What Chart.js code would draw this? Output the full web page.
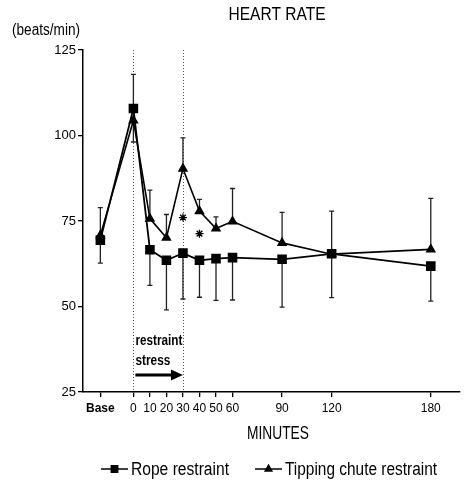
<!DOCTYPE html>
<html lang="en">
<head>
    <meta charset="utf-8">
    <title>Heart rate</title>
    <script src="https://cdn.jsdelivr.net/npm/chart.js@4.4.0/dist/chart.umd.min.js"></script>
    <style>
        body { margin: 0; background: #fff; }
        canvas { display: block; }
    </style>
</head>
<body>
<canvas id="hr-chart" width="467" height="483"></canvas>
<script>
"use strict";

// tidpunkter (minuter, Base ritas på -20)
const minutes = [-20, 0, 10, 20, 30, 40, 50, 60, 90, 120, 180];
const timeLabels = ["Base", "0", "10", "20", "30", "40", "50", "60", "90", "120", "180"];
const yTicks = [25, 50, 75, 100, 125];

const seriesNames = ["Rope restraint", "Tipping chute restraint"];
const ropeMean = [69.4, 107.9, 66.6, 63.5, 65.6, 63.5, 64.0, 64.3, 63.8, 65.4, 61.8];
const tippingMean = [70.8, 104.4, 75.7, 70.1, 90.3, 77.9, 72.8, 74.9, 68.6, 65.3, 66.7];

// ändpunkt för felstaplarna
const ropeErrEnd = [62.7, 117.9, 56.2, 49.0, 52.2, 52.7, 51.8, 51.9, 49.8, 52.6, 51.6];
const tippingErrEnd = [78.9, 98.1, 84.0, 76.9, 99.3, 81.3, 76.2, 84.5, 77.5, 77.9, 81.6];

// signifikans-stjärnor
const starMinutes = [30, 40];
const starValues = [76.0, 71.3];

// restraint-perioden
const stressStart = 0;
const stressEnd = 30;

const FONT = "'Liberation Sans', Arial, sans-serif";

const toPoints = (xs, ys) => xs.map((x, i) => ({ x: x, y: ys[i] }));

// smal text: trycker ihop texten till en given bredd
function narrowText(ctx, text, x, y, width, align) {
    const w = ctx.measureText(text).width;
    const sx = width / w;
    ctx.save();
    ctx.translate(x, y);
    ctx.scale(sx, 1);
    let dx = 0;
    if (align === "center") dx = -w / 2;
    ctx.textAlign = "left";
    ctx.fillText(text, dx, 0);
    ctx.restore();
}

function drawErrorBars(ctx, xScale, yScale, means, ends) {
    ctx.save();
    ctx.strokeStyle = "#222";
    ctx.lineWidth = 1.3;
    minutes.forEach((m, i) => {
        const x = xScale.getPixelForValue(m);
        const y0 = yScale.getPixelForValue(means[i]);
        const y1 = yScale.getPixelForValue(ends[i]);
        ctx.beginPath();
        ctx.moveTo(x, y0);
        ctx.lineTo(x, y1);
        ctx.moveTo(x - 2.5, y1);
        ctx.lineTo(x + 2.5, y1);
        ctx.stroke();
    });
    ctx.restore();
}

const overlay = {
    id: "overlay",
    beforeDatasetsDraw(chart) {
        const { ctx, chartArea, scales } = chart;
        const x = scales.x, y = scales.y;

        // prickade linjer för start och slut
        ctx.save();
        ctx.strokeStyle = "#555";
        ctx.lineWidth = 1;
        ctx.setLineDash([1, 2]);
        [stressStart, stressEnd].forEach(m => {
            const px = Math.round(x.getPixelForValue(m)) + 0.5;
            ctx.beginPath();
            ctx.moveTo(px, chartArea.top);
            ctx.lineTo(px, chartArea.bottom);
            ctx.stroke();
        });
        ctx.restore();

        drawErrorBars(ctx, x, y, ropeMean, ropeErrEnd);
        drawErrorBars(ctx, x, y, tippingMean, tippingErrEnd);
    },
    afterDraw(chart) {
        const { ctx, scales } = chart;
        const x = scales.x;

        ctx.save();
        ctx.fillStyle = "#000";
        ctx.textBaseline = "middle";

        ctx.font = "19px " + FONT;
        narrowText(ctx, "HEART RATE", 277, 15, 97, "center");

        ctx.font = "16px " + FONT;
        narrowText(ctx, "(beats/min)", 12, 31, 68, "left");

        ctx.font = "18px " + FONT;
        narrowText(ctx, "MINUTES", 278, 434, 62, "center");

        // restraint stress + pil
        const xs = x.getPixelForValue(stressStart) + 2;
        const xe = x.getPixelForValue(stressEnd);
        ctx.font = "bold 15px " + FONT;
        ctx.textBaseline = "alphabetic";
        narrowText(ctx, "restraint", xs, 345, 47, "left");
        narrowText(ctx, "stress", xs, 365, 35, "left");

        ctx.strokeStyle = "#000";
        ctx.lineWidth = 3;
        ctx.beginPath();
        ctx.moveTo(xs, 375);
        ctx.lineTo(xe - 8, 375);
        ctx.stroke();
        ctx.beginPath();
        ctx.moveTo(xe, 375);
        ctx.lineTo(xe - 12, 369.5);
        ctx.lineTo(xe - 12, 380.5);
        ctx.closePath();
        ctx.fill();

        // förklaring
        const legendY = 469;
        const items = [
            { name: seriesNames[0], x: 101, w: 98, style: "rect", r: 4.5 },
            { name: seriesNames[1], x: 255, w: 152, style: "triangle", r: 3.8 }
        ];
        ctx.font = "18px " + FONT;
        ctx.textBaseline = "middle";
        items.forEach(it => {
            ctx.strokeStyle = "#000";
            ctx.lineWidth = 1.5;
            ctx.beginPath();
            ctx.moveTo(it.x, legendY);
            ctx.lineTo(it.x + 27, legendY);
            ctx.stroke();
            Chart.helpers.drawPoint(ctx, { pointStyle: it.style, radius: it.r, borderWidth: 1 }, it.x + 13.5, legendY);
            ctx.fill();
            narrowText(ctx, it.name, it.x + 30, legendY + 1, it.w, "left");
        });
        ctx.restore();
    }
};

new Chart(document.getElementById("hr-chart"), {
    type: "line",
    data: {
        datasets: [
            {
                label: seriesNames[0],
                data: toPoints(minutes, ropeMean),
                borderColor: "#000",
                backgroundColor: "#000",
                borderWidth: 1.8,
                pointStyle: "rect",
                pointRadius: 5.5,
                tension: 0
            },
            {
                label: seriesNames[1],
                data: toPoints(minutes, tippingMean),
                borderColor: "#000",
                backgroundColor: "#000",
                borderWidth: 1.6,
                pointStyle: "triangle",
                pointRadius: 4.5,
                tension: 0
            },
            {
                label: "sig",
                type: "scatter",
                data: toPoints(starMinutes, starValues),
                borderColor: "#000",
                backgroundColor: "#000",
                borderWidth: 1.3,
                pointStyle: "star",
                pointRadius: 4,
                showLine: false
            }
        ]
    },
    options: {
        responsive: false,
        animation: false,
        devicePixelRatio: 1,
        layout: { padding: { top: 50, left: 0, right: 1, bottom: 0 } },
        plugins: {
            legend: { display: false },
            title: { display: false },
            tooltip: { enabled: false }
        },
        scales: {
            x: {
                type: "linear",
                min: -30.5,
                max: 197.5,
                afterFit: scale => { scale.height = 91; },
                afterBuildTicks: scale => { scale.ticks = minutes.map(v => ({ value: v })); },
                grid: { drawOnChartArea: false, drawTicks: true, tickLength: 5, color: "#000", lineWidth: 1.3 },
                border: { color: "#000", width: 1.5 },
                ticks: {
                    autoSkip: false,
                    maxRotation: 0,
                    padding: 4,
                    color: "#000",
                    font: ctx => ({
                        family: FONT,
                        size: 12,
                        weight: ctx.tick && ctx.tick.value === -20 ? "bold" : "normal"
                    }),
                    callback: value => timeLabels[minutes.indexOf(value)]
                }
            },
            y: {
                min: 25,
                max: 125,
                afterFit: scale => { scale.width = 83; },
                afterBuildTicks: scale => { scale.ticks = yTicks.map(v => ({ value: v })); },
                grid: { drawOnChartArea: false, drawTicks: true, tickLength: 5, color: "#000", lineWidth: 1.3 },
                border: { color: "#000", width: 1.5 },
                ticks: {
                    padding: 2,
                    color: "#000",
                    font: { family: FONT, size: 13 }
                }
            }
        }
    },
    plugins: [overlay]
});
</script>
</body>
</html>
